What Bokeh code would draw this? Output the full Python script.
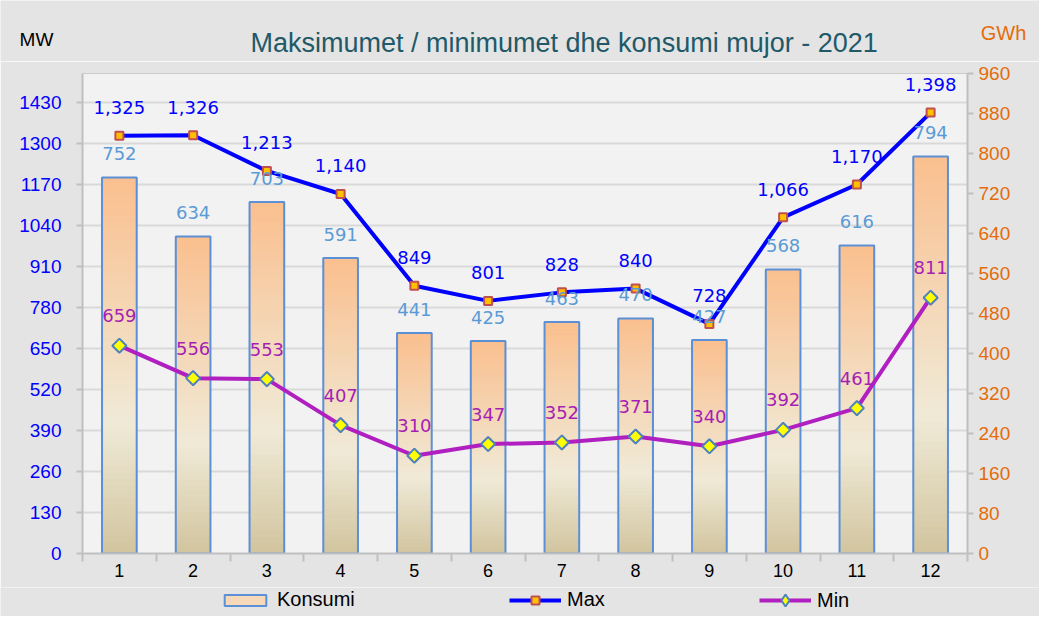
from bokeh.plotting import figure
from bokeh.layouts import column, row
from bokeh.models import (Range1d, LinearAxis, FixedTicker, LabelSet, Label, Legend,
                          LegendItem, ColumnDataSource)
from bokeh.core.properties import value
from bokeh.embed import file_html
from bokeh.resources import INLINE
import math

# ---------------- data ----------------
months = [1, 2, 3, 4, 5, 6, 7, 8, 9, 10, 11, 12]
konsumi = [752, 634, 703, 591, 441, 425, 463, 470, 427, 568, 616, 794]      # GWh
max_mw = [1325, 1326, 1213, 1140, 849, 801, 828, 840, 728, 1066, 1170, 1398]  # MW
min_mw = [659, 556, 553, 407, 310, 347, 352, 371, 340, 392, 461, 811]        # MW
left_ticks = [0, 130, 260, 390, 520, 650, 780, 910, 1040, 1170, 1300, 1430]
right_ticks = [0, 80, 160, 240, 320, 400, 480, 560, 640, 720, 800, 880, 960]
title_text = "Maksimumet / minimumet  dhe konsumi mujor  - 2021"
legend_labels = ["Konsumi", "Max", "Min"]

# ---------------- styles ----------------
LABEL_FONT = "Liberation Sans"
DATA_FONT = "DejaVu Sans"
BG = "#e4e4e4"
BAR_W = 0.47
N_SLICES = 60
stops = [(0.0, (0xd1, 0xc4, 0x9e)), (0.35, (0xf0, 0xea, 0xd7)), (1.0, (0xfa, 0xbf, 0x8e))]


def grad(f):
    for (f0, c0), (f1, c1) in zip(stops[:-1], stops[1:]):
        if f <= f1:
            t = (f - f0) / (f1 - f0)
            c = [round(a + (b - a) * t) for a, b in zip(c0, c1)]
            return "#%02x%02x%02x" % tuple(c)
    return "#%02x%02x%02x" % stops[-1][1]


def blank_fig(h):
    f = figure(width=1039, height=h, output_backend="svg", toolbar_location=None,
               x_range=Range1d(0, 1039), y_range=Range1d(0, h),
               x_axis_type=None, y_axis_type=None,
               min_border_left=0, min_border_right=0, min_border_top=0, min_border_bottom=0)
    f.border_fill_color = BG
    f.background_fill_color = BG
    f.outline_line_color = None
    f.xgrid.grid_line_color = None
    f.ygrid.grid_line_color = None
    return f


# ---------------- header ----------------
HEAD_H = 61
head = blank_fig(HEAD_H)
head.add_layout(Label(x=250, y=19, text=title_text, text_align="left",
                      text_baseline="middle", text_font=LABEL_FONT, text_font_size="27px",
                      text_color="#215968"))
head.add_layout(Label(x=36, y=22, text="MW", text_align="center",
                      text_baseline="middle", text_font=LABEL_FONT, text_font_size="19px",
                      text_color="#000000"))
head.add_layout(Label(x=1003, y=29, text="GWh", text_align="center",
                      text_baseline="middle", text_font=LABEL_FONT, text_font_size="20px",
                      text_color="#e46c0a"))

# ---------------- main chart ----------------
p = figure(frame_width=885, frame_height=480, output_backend="svg", toolbar_location=None,
           x_range=Range1d(0.5, 12.5), y_range=Range1d(0, 1522),
           min_border_left=82, min_border_right=72, min_border_top=12, min_border_bottom=34)
p.extra_y_ranges = {"gwh": Range1d(0, 960)}
p.border_fill_color = BG
p.background_fill_color = "#f2f2f2"
p.outline_line_color = "#cccccc"
p.outline_line_width = 1

sl_left, sl_right, sl_bot, sl_top, sl_col = [], [], [], [], []
for m, v in zip(months, konsumi):
    for k in range(N_SLICES):
        sl_left.append(m - BAR_W / 2)
        sl_right.append(m + BAR_W / 2)
        sl_bot.append(v * k / N_SLICES)
        sl_top.append(v * (k + 1) / N_SLICES)
        sl_col.append(grad((k + 0.5) / N_SLICES))
p.quad(left=sl_left, right=sl_right, bottom=sl_bot, top=sl_top, fill_color=sl_col,
       line_color=sl_col, line_width=1, y_range_name="gwh")
p.quad(left=[m - BAR_W / 2 for m in months], right=[m + BAR_W / 2 for m in months],
       bottom=[0] * len(months), top=konsumi, fill_alpha=0, line_color="#5b8fd6",
       line_width=2, y_range_name="gwh")

MAX_LINE = dict(line_color="#0000ff", line_width=4)
MAX_MARK = dict(marker="square", size=8, fill_color="#ffc000", line_color="#c0504d", line_width=2)
MIN_LINE = dict(line_color="#b01fc0", line_width=4)
MIN_MARK = dict(marker="square", angle=math.pi / 4, size=10, fill_color="#ffff00",
                line_color="#4f81bd", line_width=2)

p.line(months, max_mw, **MAX_LINE)
p.scatter(months, max_mw, **MAX_MARK)
p.line(months, min_mw, **MIN_LINE)
p.scatter(months, min_mw, **MIN_MARK)

src_bar = ColumnDataSource(dict(x=months, y=konsumi, t=[f"{v:,}" for v in konsumi]))
src_max = ColumnDataSource(dict(x=months, y=max_mw, t=[f"{v:,}" for v in max_mw]))
src_min = ColumnDataSource(dict(x=months, y=min_mw, t=[f"{v:,}" for v in min_mw]))
for src, off, col, rng in [(src_bar, 24, "#5b9bd5", "gwh"), (src_max, 28, "#0000ff", "default"),
                           (src_min, 30, "#a51fb5", "default")]:
    p.add_layout(LabelSet(x="x", y="y", text="t", source=src, y_range_name=rng,
                          y_offset=off, text_align="center", text_baseline="middle",
                          text_font=value(DATA_FONT), text_font_size=value("18px"),
                          text_color=col))

p.xaxis.ticker = FixedTicker(ticks=months, minor_ticks=[m - 0.5 for m in months] + [12.5])
p.xaxis.major_tick_out = 0
p.xaxis.major_tick_in = 0
p.xaxis.minor_tick_out = 8
p.xaxis.minor_tick_in = 0
p.xaxis.minor_tick_line_color = "#bfbfbf"
p.xaxis.minor_tick_line_width = 2
p.xaxis.axis_line_color = "#bfbfbf"
p.xaxis.axis_line_width = 2
p.xaxis.major_label_standoff = 2
p.xaxis.major_label_text_font = LABEL_FONT
p.xaxis.major_label_text_font_size = "18px"
p.xaxis.major_label_text_color = "#000000"

p.yaxis.ticker = FixedTicker(ticks=left_ticks)
p.yaxis.minor_tick_line_color = None
p.yaxis.major_tick_out = 6
p.yaxis.major_tick_in = 0
p.yaxis.major_tick_line_color = "#bfbfbf"
p.yaxis.major_tick_line_width = 2
p.yaxis.axis_line_color = "#bfbfbf"
p.yaxis.axis_line_width = 2
p.yaxis.major_label_standoff = 15
p.yaxis.major_label_text_font = LABEL_FONT
p.yaxis.major_label_text_font_size = "19px"
p.yaxis.major_label_text_color = "#0000ff"

ax_r = LinearAxis(y_range_name="gwh", ticker=FixedTicker(ticks=right_ticks))
ax_r.minor_tick_line_color = None
ax_r.major_tick_out = 6
ax_r.major_tick_in = 0
ax_r.major_tick_line_color = "#bfbfbf"
ax_r.major_tick_line_width = 2
ax_r.axis_line_color = "#bfbfbf"
ax_r.axis_line_width = 2
ax_r.major_label_standoff = 5
ax_r.major_label_text_font = LABEL_FONT
ax_r.major_label_text_font_size = "19px"
ax_r.major_label_text_color = "#e46c0a"
p.add_layout(ax_r, "right")

p.xgrid.grid_line_color = None
p.ygrid.ticker = FixedTicker(ticks=left_ticks)
p.ygrid.grid_line_color = "#d9d9d9"
p.ygrid.grid_line_width = 2

# ---------------- footer with legend ----------------
FOOT_H = 616 - HEAD_H - (12 + 480 + 34)
foot = blank_fig(FOOT_H)
OFF = [-100]  # dummy, off-canvas: only used to give the legend its glyph styles
r_bar = foot.quad(left=OFF, right=OFF, bottom=OFF, top=OFF, fill_color="#f7d9b9",
                  line_color="#5b8fd6", line_width=2)
r_maxl = foot.line(OFF, OFF, **MAX_LINE)
r_maxm = foot.scatter(OFF, OFF, **MAX_MARK)
r_minl = foot.line(OFF, OFF, **MIN_LINE)
r_minm = foot.scatter(OFF, OFF, marker="diamond", fill_color="#ffff00",
                      line_color="#4f81bd", line_width=2)

for lab, rends, x, gh, y in zip(legend_labels,
                                [[r_bar], [r_maxl, r_maxm], [r_minl, r_minm]],
                                [219, 509, 759], [14, 20, 30], [5, 5, 1]):
    lg = Legend(items=[LegendItem(label=lab, renderers=rends)], location=(x, y),
                orientation="horizontal", padding=0, margin=0, border_line_alpha=0,
                background_fill_alpha=0, glyph_width=52, glyph_height=gh,
                label_standoff=6, label_text_font=LABEL_FONT,
                label_text_font_size="20px", label_text_color="#000000")
    foot.add_layout(lg, "center")

layout = column(row(head), p, row(foot), spacing=0)
open("out.html", "w").write(file_html(layout, INLINE))
